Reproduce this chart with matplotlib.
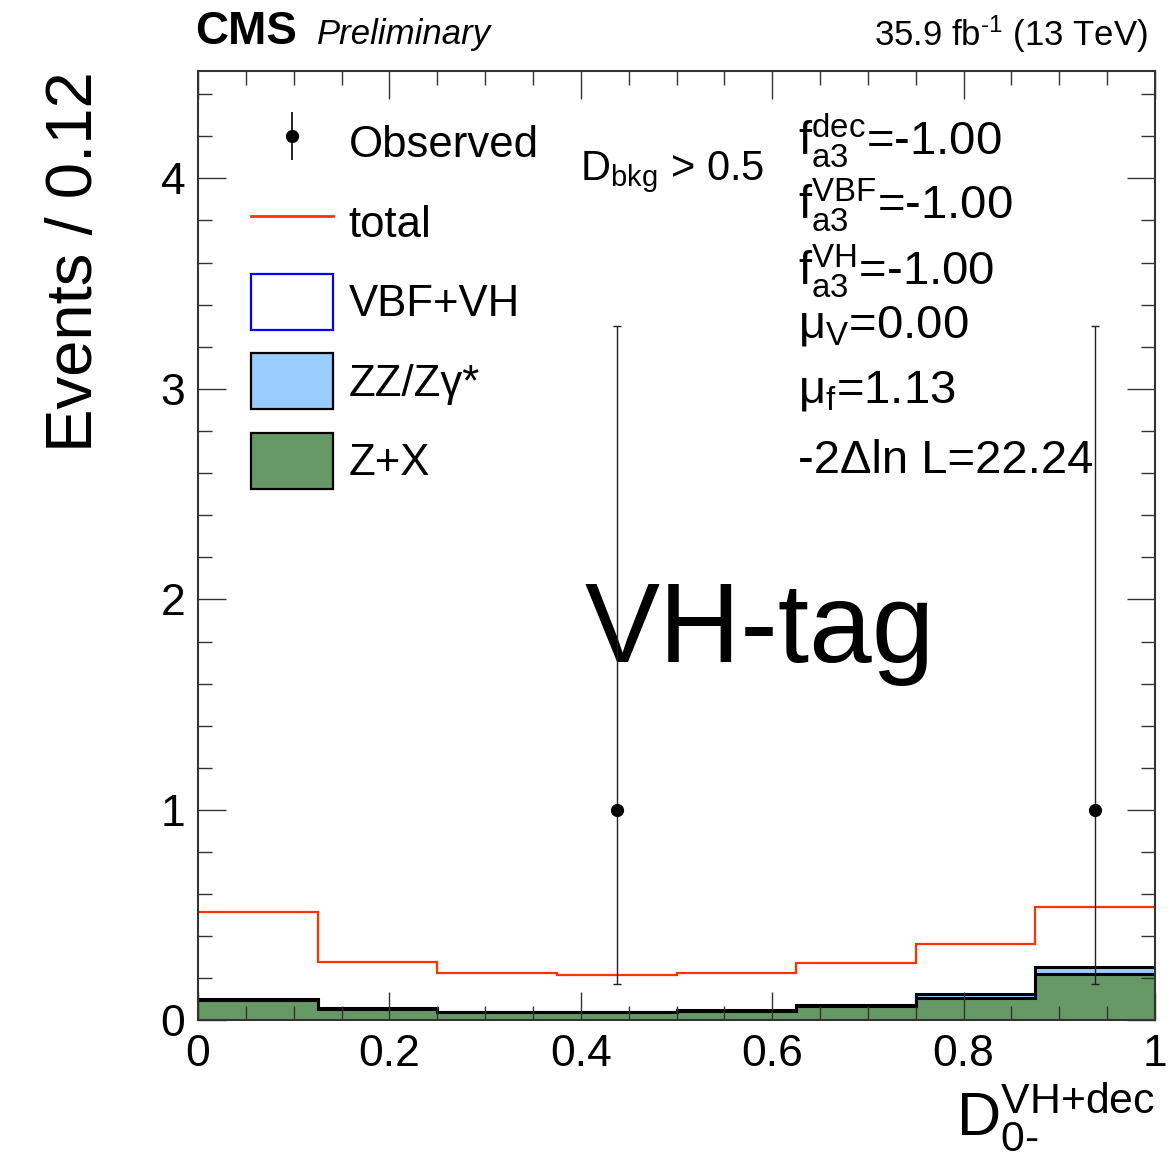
"""
CMS-style stacked histogram of D_0-^{VH+dec} in the VH-tagged category.
"""

import matplotlib

matplotlib.use("Agg")
import matplotlib.pyplot as plt
import numpy as np
from matplotlib.container import ErrorbarContainer
from matplotlib.legend_handler import HandlerErrorbar
from matplotlib.lines import Line2D
from matplotlib.patches import Rectangle

# --- data --------------------------------------------------------------
bin_edges = [0.0, 0.125, 0.25, 0.375, 0.5, 0.625, 0.75, 0.875, 1.0]
total = [0.514, 0.279, 0.224, 0.218, 0.224, 0.272, 0.363, 0.538]
z_plus_x = [0.095, 0.054, 0.039, 0.039, 0.046, 0.068, 0.105, 0.219]
zz_zgamma = [0.005, 0.004, 0.003, 0.003, 0.004, 0.006, 0.022, 0.034]
vbf_vh = [0.0, 0.0, 0.0, 0.0, 0.0, 0.0, 0.0, 0.0]
observed = [0, 0, 0, 1, 0, 0, 0, 1]
obs_err_low = [0.0, 0.0, 0.0, 0.827, 0.0, 0.0, 0.0, 0.827]
obs_err_high = [0.0, 0.0, 0.0, 2.299, 0.0, 0.0, 0.0, 2.299]

x_ticks = [0, 0.2, 0.4, 0.6, 0.8, 1]
x_tick_labels = ["0", "0.2", "0.4", "0.6", "0.8", "1"]
y_ticks = [0, 1, 2, 3, 4]
y_tick_labels = ["0", "1", "2", "3", "4"]

legend_labels = ["Observed", "total", "VBF+VH", "ZZ/Z\u03b3*", "Z+X"]
fit_lines = [
    r"$\mathrm{f}^{\mathrm{dec}}_{\mathrm{a3}}$=-1.00",
    r"$\mathrm{f}^{\mathrm{VBF}}_{\mathrm{a3}}$=-1.00",
    r"$\mathrm{f}^{\mathrm{VH}}_{\mathrm{a3}}$=-1.00",
    r"$\mathrm{\mu}_{\mathrm{V}}$=0.00",
    r"$\mathrm{\mu}_{\mathrm{f}}$=1.13",
    "-2\u0394ln L=22.24",
]
fit_line_y = [4.111, 3.808, 3.494, 3.242, 2.933, 2.600]

GREEN = "#669966"
LIGHT_BLUE = "#99ccff"
RED = "#ff3300"

plt.rcParams["font.family"] = ["Liberation Sans", "DejaVu Sans"]
plt.rcParams["mathtext.fontset"] = "custom"
plt.rcParams["mathtext.rm"] = "Liberation Sans"
plt.rcParams["mathtext.it"] = "Liberation Sans:italic"
plt.rcParams["mathtext.bf"] = "Liberation Sans:bold"

fig = plt.figure(figsize=(11.75, 11.62), dpi=100)
ax = fig.add_axes([0.1685, 0.1218, 0.8145, 0.8171])

edges = np.array(bin_edges)
zx = np.array(z_plus_x)
zz_top = zx + np.array(zz_zgamma)
vbf_top = zz_top + np.array(vbf_vh)

# stacked backgrounds
ax.stairs(zx, edges, baseline=0, fill=True, color=GREEN, linewidth=0)
ax.stairs(zz_top, edges, baseline=zx, fill=True, color=LIGHT_BLUE, linewidth=0)
ax.stairs(vbf_top, edges, baseline=None, color="#0000ff", linewidth=2)
ax.stairs(zx, edges, baseline=None, color="black", linewidth=2.2)
ax.stairs(zz_top, edges, baseline=None, color="black", linewidth=2.2)

# total expectation
ax.stairs(total, edges, baseline=None, color=RED, linewidth=1.6)

# observed points (empty bins not drawn)
centers = 0.5 * (edges[:-1] + edges[1:])
obs = np.array(observed, dtype=float)
mask = obs > 0
ax.errorbar(
    centers[mask],
    obs[mask],
    yerr=[np.array(obs_err_low)[mask], np.array(obs_err_high)[mask]],
    fmt="o",
    color="black",
    ecolor="#222222",
    markersize=8.5,
    elinewidth=1.0,
    capsize=3,
    capthick=1.0,
    zorder=5,
)
# legend proxy for the data points, drawn without caps
data_proxy = ax.errorbar(
    [np.nan], [np.nan], yerr=[[1.0], [1.0]], fmt="o", color="black",
    markersize=8.5, elinewidth=1.2, capsize=0,
)

ax.set_xlim(0, 1)
ax.set_ylim(0, 4.51)
ax.set_xticks(x_ticks)
ax.set_xticklabels(x_tick_labels)
ax.set_yticks(y_ticks)
ax.set_yticklabels(y_tick_labels)
ax.set_xticks(np.arange(0, 1.0001, 0.05), minor=True)
ax.set_yticks(np.arange(0, 4.51, 0.2), minor=True)
ax.tick_params(which="both", direction="in", top=True, right=True,
               color="#333333", width=1.0)
ax.tick_params(which="major", length=20, labelsize=32)
ax.tick_params(which="minor", length=10)
ax.tick_params(axis="x", which="major", pad=10)
ax.tick_params(axis="y", which="major", pad=9)
for spine in ax.spines.values():
    spine.set_linewidth(1.5)
    spine.set_color("#333333")

ax.set_ylabel("Events / 0.12", fontsize=47, loc="top")
ax.yaxis.set_label_coords(-0.097, 1.0)
ax.set_xlabel(r"$\mathrm{D}_{\text{0-}}^{\text{VH+dec}}$", fontsize=44, loc="right")
ax.xaxis.set_label_coords(1.0, -0.063)

# legend
legend_handles = [
    data_proxy,
    Line2D([], [], color=RED, linewidth=2),
    Rectangle((0, 0), 1, 1, facecolor="white", edgecolor="#0000ff", linewidth=1.6),
    Rectangle((0, 0), 1, 1, facecolor=LIGHT_BLUE, edgecolor="black", linewidth=1.6),
    Rectangle((0, 0), 1, 1, facecolor=GREEN, edgecolor="black", linewidth=1.6),
]
ax.legend(
    legend_handles,
    legend_labels,
    loc="upper left",
    bbox_to_anchor=(0.0554, 0.9536),
    frameon=False,
    fontsize=31.5,
    borderpad=0,
    borderaxespad=0,
    handlelength=1.87,
    handleheight=1.6,
    handletextpad=0.36,
    labelspacing=0.53,
    handler_map={ErrorbarContainer: HandlerErrorbar(xerr_size=0.55, yerr_size=0.55)},
)

# annotations
ax.text(0.399, 3.99, r"$\mathrm{D}_{\mathrm{bkg}}$ > 0.5", fontsize=30, va="baseline")
for label, y_pos in zip(fit_lines, fit_line_y):
    ax.text(0.627, y_pos, label, fontsize=34, va="baseline")
ax.text(0.404, 1.703, "VH-tag", fontsize=81, va="baseline")

fig.text(195 / 1175, 1 - 44 / 1162, "CMS", fontsize=33, fontweight="bold", va="baseline")
fig.text(317 / 1175, 1 - 44 / 1162, "Preliminary", fontsize=25, style="italic", va="baseline")
fig.text(1148 / 1175, 1 - 46 / 1162, r"35.9 fb$^{\text{-1}}$ (13 TeV)", fontsize=25,
         ha="right", va="baseline")

fig.savefig("out.png", dpi=100)
plt.close(fig)
